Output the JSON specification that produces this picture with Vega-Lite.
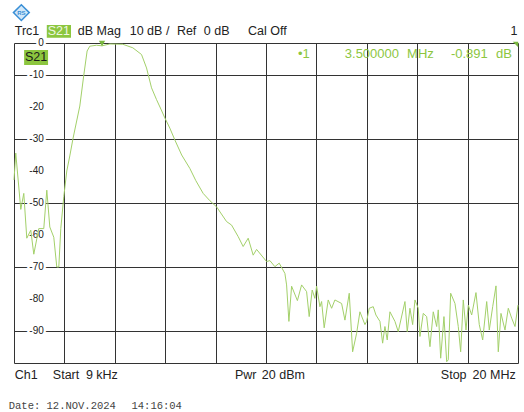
{
  "$schema": "https://vega.github.io/schema/vega-lite/v6.json",
  "width": 504,
  "height": 320,
  "autosize": "none",
  "padding": {"left": 14, "top": 43, "right": 6, "bottom": 49},
  "background": "#ffffff",
  "config": {
    "view": {"stroke": "#333333", "strokeWidth": 1},
    "font": "Liberation Sans"
  },
  "datasets": {
    "trace": [
      {"f": 0.009, "db": -42.8}, {"f": 0.079, "db": -34.4}, {"f": 0.278, "db": -52.0}, {"f": 0.397, "db": -47.0},
      {"f": 0.516, "db": -61.0}, {"f": 0.675, "db": -58.5}, {"f": 0.794, "db": -66.0}, {"f": 0.992, "db": -58.0},
      {"f": 1.19, "db": -58.0}, {"f": 1.31, "db": -46.0}, {"f": 1.429, "db": -57.5}, {"f": 1.587, "db": -60.7},
      {"f": 1.706, "db": -70.0}, {"f": 1.786, "db": -70.0}, {"f": 1.865, "db": -58.0}, {"f": 1.984, "db": -48.0},
      {"f": 2.103, "db": -40.0}, {"f": 2.222, "db": -35.3}, {"f": 2.353, "db": -29.7}, {"f": 2.619, "db": -19.7},
      {"f": 2.778, "db": -10.0}, {"f": 2.909, "db": -2.5}, {"f": 3.016, "db": -1.0}, {"f": 3.282, "db": -0.7},
      {"f": 3.5, "db": -0.891}, {"f": 3.81, "db": -0.3}, {"f": 4.325, "db": -0.4}, {"f": 4.722, "db": -1.5},
      {"f": 5.067, "db": -3.6}, {"f": 5.266, "db": -7.8}, {"f": 5.464, "db": -14.0}, {"f": 5.663, "db": -17.7},
      {"f": 5.85, "db": -20.9}, {"f": 5.992, "db": -23.4}, {"f": 6.19, "db": -26.6}, {"f": 6.389, "db": -30.3},
      {"f": 6.66, "db": -35.0}, {"f": 6.984, "db": -39.2}, {"f": 7.22, "db": -43.0},
      {"f": 7.512, "db": -47.0}, {"f": 7.78, "db": -49.3}, {"f": 8.044, "db": -51.2}, {"f": 8.44, "db": -55.8}, {"f": 8.639, "db": -56.9},
      {"f": 8.901, "db": -60.5}, {"f": 9.099, "db": -63.6}, {"f": 9.298, "db": -61.0}, {"f": 9.496, "db": -66.3},
      {"f": 9.631, "db": -64.5}, {"f": 10.028, "db": -68.3}, {"f": 10.159, "db": -68.0}, {"f": 10.357, "db": -69.9},
      {"f": 10.528, "db": -68.8}, {"f": 10.754, "db": -72.0}, {"f": 10.821, "db": -75.6}, {"f": 10.913, "db": -87.0},
      {"f": 11.02, "db": -76.0}, {"f": 11.25, "db": -80.5}, {"f": 11.417, "db": -75.6}, {"f": 11.615, "db": -77.7},
      {"f": 11.718, "db": -85.5}, {"f": 11.837, "db": -77.2}, {"f": 11.944, "db": -79.8}, {"f": 12.012, "db": -76.0},
      {"f": 12.143, "db": -82.4}, {"f": 12.21, "db": -80.8}, {"f": 12.313, "db": -89.0}, {"f": 12.472, "db": -80.3},
      {"f": 12.607, "db": -82.9}, {"f": 12.738, "db": -80.3}, {"f": 13.004, "db": -81.4}, {"f": 13.135, "db": -86.6},
      {"f": 13.306, "db": -78.2}, {"f": 13.44, "db": -96.5}, {"f": 13.599, "db": -90.7}, {"f": 13.73, "db": -84.0},
      {"f": 13.929, "db": -88.0}, {"f": 13.996, "db": -87.0}, {"f": 14.099, "db": -82.9}, {"f": 14.258, "db": -82.4},
      {"f": 14.365, "db": -85.0}, {"f": 14.524, "db": -87.0}, {"f": 14.631, "db": -93.8}, {"f": 14.722, "db": -88.6},
      {"f": 14.813, "db": -92.8}, {"f": 14.921, "db": -84.0}, {"f": 15.119, "db": -87.0}, {"f": 15.25, "db": -90.2},
      {"f": 15.516, "db": -80.8}, {"f": 15.607, "db": -90.2}, {"f": 15.714, "db": -82.9}, {"f": 15.821, "db": -88.0},
      {"f": 15.913, "db": -80.3}, {"f": 16.044, "db": -82.9}, {"f": 16.111, "db": -91.7}, {"f": 16.242, "db": -84.5},
      {"f": 16.377, "db": -85.5}, {"f": 16.508, "db": -94.9}, {"f": 16.639, "db": -84.0}, {"f": 16.774, "db": -88.6},
      {"f": 16.837, "db": -83.4}, {"f": 16.933, "db": -98.5}, {"f": 17.063, "db": -85.5}, {"f": 17.171, "db": -99.6},
      {"f": 17.234, "db": -99.0}, {"f": 17.329, "db": -78.2}, {"f": 17.5, "db": -81.4}, {"f": 17.631, "db": -88.6},
      {"f": 17.726, "db": -96.5}, {"f": 17.829, "db": -80.3}, {"f": 17.937, "db": -89.7}, {"f": 18.028, "db": -81.9},
      {"f": 18.163, "db": -85.0}, {"f": 18.333, "db": -78.0}, {"f": 18.464, "db": -88.0}, {"f": 18.599, "db": -92.8},
      {"f": 18.758, "db": -80.8}, {"f": 18.861, "db": -89.7}, {"f": 18.996, "db": -82.4}, {"f": 19.127, "db": -75.9},
      {"f": 19.218, "db": -96.5}, {"f": 19.325, "db": -84.5}, {"f": 19.484, "db": -89.7}, {"f": 19.615, "db": -82.9},
      {"f": 19.75, "db": -86.0}, {"f": 19.881, "db": -88.6}, {"f": 20.0, "db": -81.9}
    ],
    "ylabels": [
      {"f": 1.19, "db": 0, "t": "0"}, {"f": 1.19, "db": -10, "t": "-10"}, {"f": 1.19, "db": -20, "t": "-20"},
      {"f": 1.19, "db": -30, "t": "-30"}, {"f": 1.19, "db": -40, "t": "-40"}, {"f": 1.19, "db": -50, "t": "-50"},
      {"f": 1.19, "db": -60, "t": "-60"}, {"f": 1.19, "db": -70, "t": "-70"}, {"f": 1.19, "db": -80, "t": "-80"},
      {"f": 1.19, "db": -90, "t": "-90"}
    ],
    "info": [
      {"f": 0.04, "db": 3.75, "t": "Trc1"}, {"f": 2.54, "db": 3.75, "t": "dB Mag"}, {"f": 4.6, "db": 3.75, "t": "10 dB /"},
      {"f": 6.47, "db": 3.75, "t": "Ref"}, {"f": 7.54, "db": 3.75, "t": "0 dB"}, {"f": 9.29, "db": 3.75, "t": "Cal Off"},
      {"f": 19.7, "db": 3.75, "t": "1"},
      {"f": 0.04, "db": -103.75, "t": "Ch1"}, {"f": 1.55, "db": -103.75, "t": "Start"}, {"f": 2.86, "db": -103.75, "t": "9 kHz"},
      {"f": 8.77, "db": -103.75, "t": "Pwr"}, {"f": 9.84, "db": -103.75, "t": "20 dBm"},
      {"f": 16.94, "db": -103.75, "t": "Stop"}, {"f": 18.2, "db": -103.75, "t": "20 MHz"}
    ],
    "readout": [
      {"f": 11.27, "db": -3.44, "t": "•1"}, {"f": 13.13, "db": -3.44, "t": "3.500000"}, {"f": 15.6, "db": -3.44, "t": "MHz"},
      {"f": 17.34, "db": -3.44, "t": "-0.891"}, {"f": 19.13, "db": -3.44, "t": "dB"}
    ],
    "date": [
      {"f": -0.2, "db": -113.4, "t": "Date: 12.NOV.2024"}, {"f": 4.67, "db": -113.4, "t": "14:16:04"}
    ]
  },
  "layer": [
    {
      "data": {"name": "trace"},
      "mark": {"type": "line", "color": "#a3d06a", "strokeWidth": 1, "opacity": 0},
      "encoding": {
        "x": {"field": "f", "type": "quantitative", "scale": {"domain": [0.009, 20], "nice": false, "zero": false},
          "axis": {"title": null, "labels": false, "ticks": false, "domain": false, "grid": true, "gridColor": "#333333", "gridWidth": 1,
            "values": [2.0081, 4.0072, 6.0063, 8.0054, 10.0045, 12.0036, 14.0027, 16.0018, 18.0009]}},
        "y": {"field": "db", "type": "quantitative", "scale": {"domain": [-100, 0], "nice": false, "zero": false},
          "axis": {"title": null, "labels": false, "ticks": false, "domain": false, "grid": true, "gridColor": "#333333", "gridWidth": 1,
            "values": [-10, -20, -30, -40, -50, -60, -70, -80, -90]}}
      }
    },
    {
      "data": {"name": "ylabels"},
      "mark": {"type": "text", "align": "right", "baseline": "middle", "fontSize": 10, "fill": "#ffffff", "stroke": "#ffffff", "strokeWidth": 5},
      "encoding": {"x": {"field": "f", "type": "quantitative"}, "y": {"field": "db", "type": "quantitative"}, "text": {"field": "t"}}
    },
    {
      "data": {"name": "ylabels"},
      "mark": {"type": "text", "align": "right", "baseline": "middle", "fontSize": 10, "color": "#222222"},
      "encoding": {"x": {"field": "f", "type": "quantitative"}, "y": {"field": "db", "type": "quantitative"}, "text": {"field": "t"}}
    },
    {
      "data": {"values": [{"f": 1.31, "f2": 2.27, "db": 5.63, "db2": 1.66}, {"f": 0.41, "f2": 1.36, "db": -2.19, "db2": -6.88}]},
      "mark": {"type": "rect", "color": "#8cc63f"},
      "encoding": {"x": {"field": "f", "type": "quantitative"}, "x2": {"field": "f2"}, "y": {"field": "db", "type": "quantitative"}, "y2": {"field": "db2"}}
    },
    {
      "data": {"values": [{"f": 1.79, "db": 3.75, "t": "S21"}]},
      "mark": {"type": "text", "align": "center", "baseline": "middle", "fontSize": 12.5, "color": "#eef7e3"},
      "encoding": {"x": {"field": "f", "type": "quantitative"}, "y": {"field": "db", "type": "quantitative"}, "text": {"field": "t"}}
    },
    {
      "data": {"values": [{"f": 0.885, "db": -4.53, "t": "S21"}]},
      "mark": {"type": "text", "align": "center", "baseline": "middle", "fontSize": 12.5, "color": "#1a1a1a"},
      "encoding": {"x": {"field": "f", "type": "quantitative"}, "y": {"field": "db", "type": "quantitative"}, "text": {"field": "t"}}
    },
    {
      "data": {"name": "info"},
      "mark": {"type": "text", "align": "left", "baseline": "middle", "fontSize": 12.5, "color": "#222222"},
      "encoding": {"x": {"field": "f", "type": "quantitative"}, "y": {"field": "db", "type": "quantitative"}, "text": {"field": "t"}}
    },
    {
      "data": {"name": "readout"},
      "mark": {"type": "text", "align": "left", "baseline": "middle", "fontSize": 13, "color": "#8cc63f"},
      "encoding": {"x": {"field": "f", "type": "quantitative"}, "y": {"field": "db", "type": "quantitative"}, "text": {"field": "t"}}
    },
    {
      "data": {"name": "date"},
      "mark": {"type": "text", "align": "left", "baseline": "middle", "fontSize": 10.5, "font": "Liberation Mono", "color": "#444444"},
      "encoding": {"x": {"field": "f", "type": "quantitative"}, "y": {"field": "db", "type": "quantitative"}, "text": {"field": "t"}}
    },
    {
      "data": {"values": [{"f": 0.3, "db": 9.5}]},
      "mark": {"type": "point", "shape": "diamond", "size": 250, "filled": true, "fill": "#d3e8f8", "stroke": "#3a8fd6", "strokeWidth": 1.5, "opacity": 1},
      "encoding": {"x": {"field": "f", "type": "quantitative"}, "y": {"field": "db", "type": "quantitative"}}
    },
    {
      "data": {"values": [{"f": 0.3, "db": 9.5, "t": "RS"}]},
      "mark": {"type": "text", "align": "center", "baseline": "middle", "fontSize": 6, "fontWeight": "bold", "color": "#3a8fd6"},
      "encoding": {"x": {"field": "f", "type": "quantitative"}, "y": {"field": "db", "type": "quantitative"}, "text": {"field": "t"}}
    },
    {
      "data": {"name": "trace"},
      "mark": {"type": "line", "color": "#a3d06a", "strokeWidth": 1},
      "encoding": {"x": {"field": "f", "type": "quantitative"}, "y": {"field": "db", "type": "quantitative"}}
    },
    {
      "data": {"values": [{"f": 3.5, "db": -0.15}]},
      "mark": {"type": "point", "shape": "triangle-down", "size": 40, "filled": true, "color": "#7bb840", "opacity": 1},
      "encoding": {"x": {"field": "f", "type": "quantitative"}, "y": {"field": "db", "type": "quantitative"}}
    },
    {
      "data": {"values": [{"f": 19.9, "db": -0.5}]},
      "mark": {"type": "point", "shape": "M-1,-1L1,-1L1,1Z", "size": 30, "filled": true, "color": "#7bb840", "opacity": 1},
      "encoding": {"x": {"field": "f", "type": "quantitative"}, "y": {"field": "db", "type": "quantitative"}}
    }
  ]
}
